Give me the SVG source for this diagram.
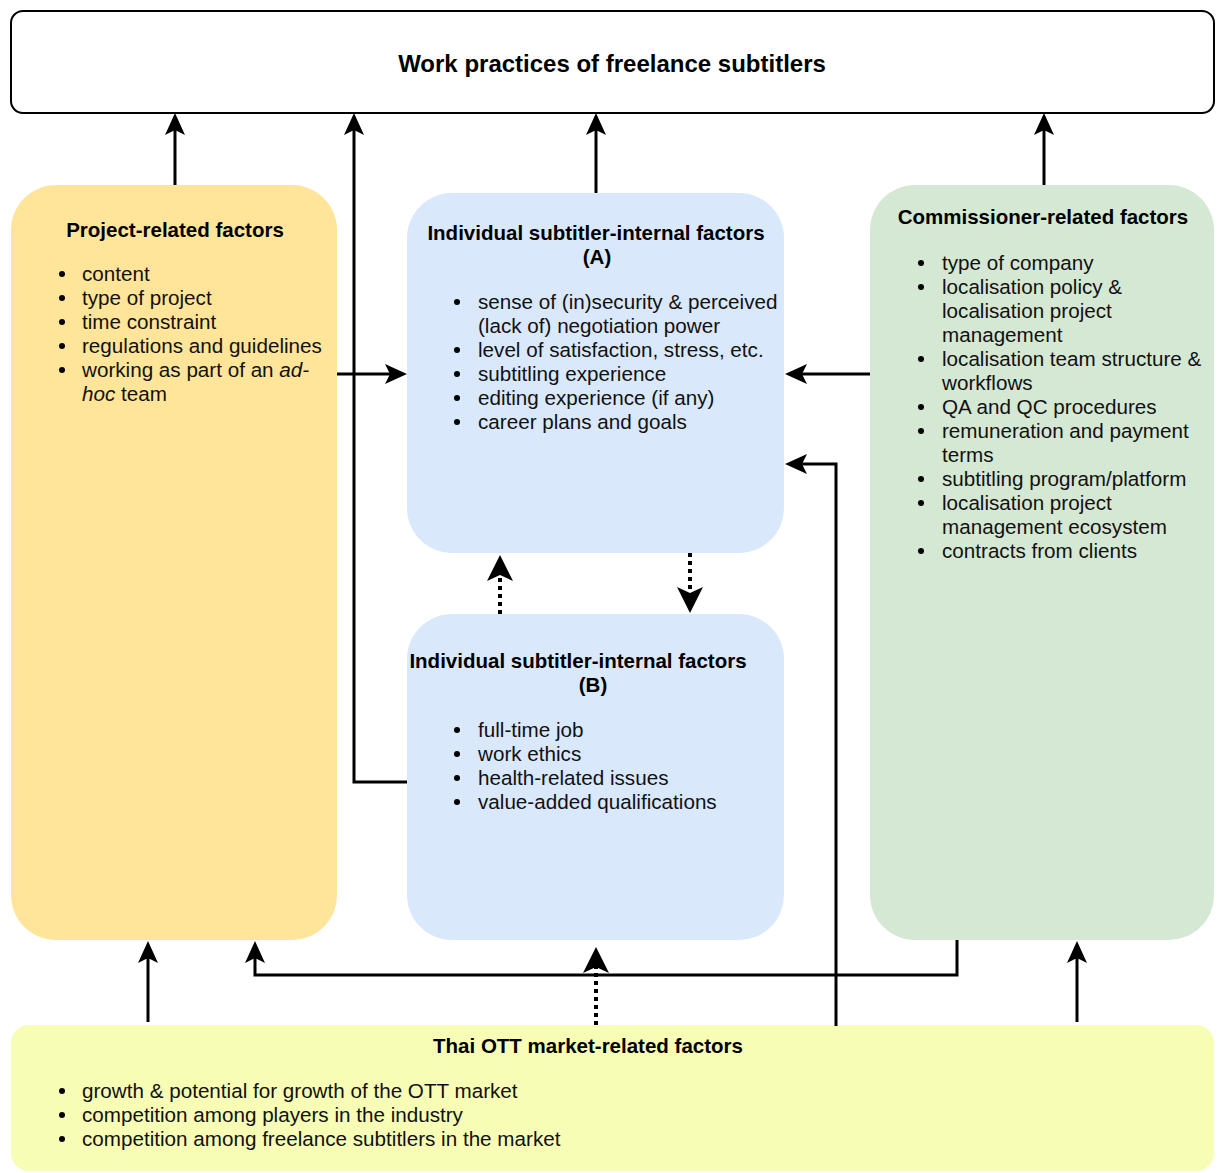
<svg xmlns="http://www.w3.org/2000/svg" width="1221" height="1173" viewBox="0 0 1221 1173">
  <defs>
    <style>
      text { font-family: "Liberation Sans", Arial, sans-serif; fill: #000; }
      .title { font-size: 24px; font-weight: bold; }
      .head { font-size: 20.5px; font-weight: bold; }
      .item { font-size: 20.65px; fill: #111; }
      .dot { fill: #000; }
      .conn { fill: none; stroke: #000; stroke-width: 3; }
      .dash { fill: none; stroke: #000; stroke-width: 4; stroke-dasharray: 4 4; }
    </style>
    <marker id="arr" viewBox="0 0 22 20" refX="5" refY="10" markerWidth="22" markerHeight="20" markerUnits="userSpaceOnUse" orient="auto">
      <path d="M0,0 L22,10 L0,20 L5,10 Z" fill="#000"/>
    </marker>
    <marker id="arrd" viewBox="0 0 26 26" refX="6" refY="13" markerWidth="26" markerHeight="26" markerUnits="userSpaceOnUse" orient="auto">
      <path d="M0,0 L26,13 L0,26 L6,13 Z" fill="#000"/>
    </marker>
  </defs>

  <rect width="1221" height="1173" fill="#fff"/>

  <!-- outcome -->
  <g id="work-practices">
    <rect x="11" y="11" width="1203" height="102" rx="12" fill="#fff" stroke="#000" stroke-width="2"/>
    <text class="title" x="612" y="72" text-anchor="middle">Work practices of freelance subtitlers</text>
  </g>

  <!-- project-related factors -->
  <g id="project">
    <rect x="11" y="185" width="326" height="755" rx="45" fill="#FFE599"/>
    <text class="head" x="175" y="237" text-anchor="middle">Project-related factors</text>
    <g class="dot">
      <circle cx="62" cy="274" r="3"/><circle cx="62" cy="298" r="3"/><circle cx="62" cy="322" r="3"/>
      <circle cx="62" cy="346" r="3"/><circle cx="62" cy="370" r="3"/>
    </g>
    <text class="item" x="82" y="281">content</text>
    <text class="item" x="82" y="305">type of project</text>
    <text class="item" x="82" y="329">time constraint</text>
    <text class="item" x="82" y="353">regulations and guidelines</text>
    <text class="item" x="82" y="377">working as part of an <tspan font-style="italic">ad-</tspan></text>
    <text class="item" x="82" y="401"><tspan font-style="italic">hoc</tspan> team</text>
  </g>

  <!-- internal factors A -->
  <g id="internal-a">
    <rect x="407" y="193" width="377" height="360" rx="45" fill="#DAE8FC"/>
    <text class="head" x="596" y="240" text-anchor="middle">Individual subtitler-internal factors</text>
    <text class="head" x="597" y="264" text-anchor="middle">(A)</text>
    <g class="dot">
      <circle cx="457" cy="302" r="3"/><circle cx="457" cy="350" r="3"/><circle cx="457" cy="374" r="3"/>
      <circle cx="457" cy="398" r="3"/><circle cx="457" cy="422" r="3"/>
    </g>
    <text class="item" x="478" y="309">sense of (in)security &amp; perceived</text>
    <text class="item" x="478" y="333">(lack of) negotiation power</text>
    <text class="item" x="478" y="357">level of satisfaction, stress, etc.</text>
    <text class="item" x="478" y="381">subtitling experience</text>
    <text class="item" x="478" y="405">editing experience (if any)</text>
    <text class="item" x="478" y="429">career plans and goals</text>
  </g>

  <!-- internal factors B -->
  <g id="internal-b">
    <rect x="407" y="614" width="377" height="326" rx="45" fill="#DAE8FC"/>
    <text class="head" x="578" y="668" text-anchor="middle">Individual subtitler-internal factors</text>
    <text class="head" x="593" y="692" text-anchor="middle">(B)</text>
    <g class="dot">
      <circle cx="457" cy="730" r="3"/><circle cx="457" cy="754" r="3"/>
      <circle cx="457" cy="778" r="3"/><circle cx="457" cy="802" r="3"/>
    </g>
    <text class="item" x="478" y="737">full-time job</text>
    <text class="item" x="478" y="761">work ethics</text>
    <text class="item" x="478" y="785">health-related issues</text>
    <text class="item" x="478" y="809">value-added qualifications</text>
  </g>

  <!-- commissioner-related factors -->
  <g id="commissioner">
    <rect x="870" y="185" width="344" height="755" rx="45" fill="#D5E8D4"/>
    <text class="head" x="1043" y="224" text-anchor="middle">Commissioner-related factors</text>
    <g class="dot">
      <circle cx="921" cy="263" r="3"/><circle cx="921" cy="287" r="3"/><circle cx="921" cy="359" r="3"/>
      <circle cx="921" cy="407" r="3"/><circle cx="921" cy="431" r="3"/><circle cx="921" cy="479" r="3"/>
      <circle cx="921" cy="503" r="3"/><circle cx="921" cy="551" r="3"/>
    </g>
    <text class="item" x="942" y="270">type of company</text>
    <text class="item" x="942" y="294">localisation policy &amp;</text>
    <text class="item" x="942" y="318">localisation project</text>
    <text class="item" x="942" y="342">management</text>
    <text class="item" x="942" y="366">localisation team structure &amp;</text>
    <text class="item" x="942" y="390">workflows</text>
    <text class="item" x="942" y="414">QA and QC procedures</text>
    <text class="item" x="942" y="438">remuneration and payment</text>
    <text class="item" x="942" y="462">terms</text>
    <text class="item" x="942" y="486">subtitling program/platform</text>
    <text class="item" x="942" y="510">localisation project</text>
    <text class="item" x="942" y="534">management ecosystem</text>
    <text class="item" x="942" y="558">contracts from clients</text>
  </g>

  <!-- market-related factors -->
  <g id="market">
    <rect x="11" y="1025" width="1203" height="146" rx="18" fill="#F7FDB5"/>
    <text class="head" x="588" y="1053" text-anchor="middle">Thai OTT market-related factors</text>
    <g class="dot">
      <circle cx="62" cy="1091" r="3"/><circle cx="62" cy="1115" r="3"/><circle cx="62" cy="1139" r="3"/>
    </g>
    <text class="item" x="82" y="1098">growth &amp; potential for growth of the OTT market</text>
    <text class="item" x="82" y="1122">competition among players in the industry</text>
    <text class="item" x="82" y="1146">competition among freelance subtitlers in the market</text>
  </g>

  <!-- connectors -->
  <g id="connectors">
    <path class="conn" d="M175,185 V130" marker-end="url(#arr)"/>
    <path class="conn" d="M407,782 H354 V130" marker-end="url(#arr)"/>
    <path class="conn" d="M596,193 V130" marker-end="url(#arr)"/>
    <path class="conn" d="M1044,185 V130" marker-end="url(#arr)"/>
    <path class="conn" d="M337,374 H390" marker-end="url(#arr)"/>
    <path class="conn" d="M870,374 H802" marker-end="url(#arr)"/>
    <path class="conn" d="M836,1026 V464 H802" marker-end="url(#arr)"/>
    <path class="dash" d="M690,553 V593" marker-end="url(#arrd)"/>
    <path class="dash" d="M500,614 V575" marker-end="url(#arrd)"/>
    <path class="dash" d="M596,1025 V967" marker-end="url(#arrd)"/>
    <path class="conn" d="M148,1022 V958" marker-end="url(#arr)"/>
    <path class="conn" d="M957,940 V975 H255 V958" marker-end="url(#arr)"/>
    <path class="conn" d="M1077,1022 V958" marker-end="url(#arr)"/>
  </g>
</svg>
